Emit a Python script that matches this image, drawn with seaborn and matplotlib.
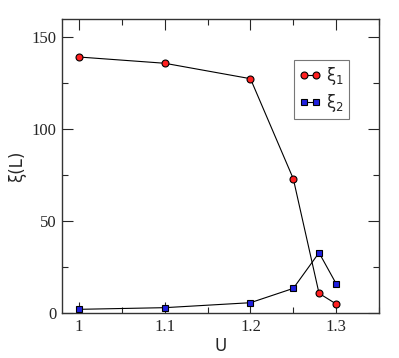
import matplotlib
matplotlib.use('Agg')
from matplotlib import pyplot as plt
import pandas as pd
import seaborn as sns

U = [1.0, 1.1, 1.2, 1.25, 1.28, 1.3]
xi1 = [139.3, 135.9, 127.5, 73.0, 10.7, 4.9]
xi2 = [2.0, 2.9, 5.6, 13.4, 32.8, 15.9]
xi2_err = [0.5, 0.5, 0.5, 0.6, 1.5, 1.2]

df = pd.DataFrame({'U': U, 'xi1': xi1, 'xi2': xi2})

sns.set_style('ticks')
plt.rcParams['font.family'] = ['DejaVu Sans']
plt.rcParams['mathtext.fontset'] = 'dejavusans'

fig = plt.figure(figsize=(3.99, 3.58), dpi=100)
ax = fig.add_axes([0.155, 0.1257, 0.795, 0.8213])

ax.errorbar(U, xi2, yerr=xi2_err, fmt='none', ecolor='black', elinewidth=0.6, capsize=2, capthick=0.6, zorder=2)
sns.lineplot(data=df, x='U', y='xi1', ax=ax, color='black', lw=0.8, marker='o', markersize=5,
             markerfacecolor='#ff2020', markeredgecolor='black', markeredgewidth=0.8, label='ξ$_1$', zorder=3)
sns.lineplot(data=df, x='U', y='xi2', ax=ax, color='black', lw=0.8, marker='s', markersize=4.5,
             markerfacecolor='#2020e0', markeredgecolor='black', markeredgewidth=0.8, label='ξ$_2$', zorder=3)

ax.set_xlim(0.98, 1.35)
ax.set_ylim(0, 160)
ax.set_xticks([1, 1.1, 1.2, 1.3])
ax.set_xticklabels(['1', '1.1', '1.2', '1.3'])
ax.set_xticks([1.05, 1.15, 1.25, 1.35], minor=True)
ax.set_yticks([0, 50, 100, 150])
ax.set_yticks([25, 75, 125], minor=True)
for lab in ax.get_xticklabels() + ax.get_yticklabels():
    lab.set_family('Liberation Serif')
    lab.set_fontsize(12)
ax.tick_params(which='both', direction='in', top=True, right=True, width=0.8, pad=4)
ax.tick_params(which='major', length=8)
ax.tick_params(which='minor', length=4)
for s in ax.spines.values():
    s.set_visible(True)
    s.set_linewidth(1.0)
    s.set_color('#333333')

ax.set_xlabel('U', fontsize=12, labelpad=2)
ax.set_ylabel('ξ(L)', fontsize=12, labelpad=4)

leg = ax.legend(loc='upper left', bbox_to_anchor=(0.732, 0.861), borderaxespad=0, fontsize=12,
                frameon=True, fancybox=False, handlelength=1.3, handletextpad=0.3, borderpad=0.3,
                labelspacing=0.3, numpoints=2)
leg.get_frame().set_edgecolor('#555555')
leg.get_frame().set_linewidth(0.8)

fig.savefig('out.png', dpi=100)
